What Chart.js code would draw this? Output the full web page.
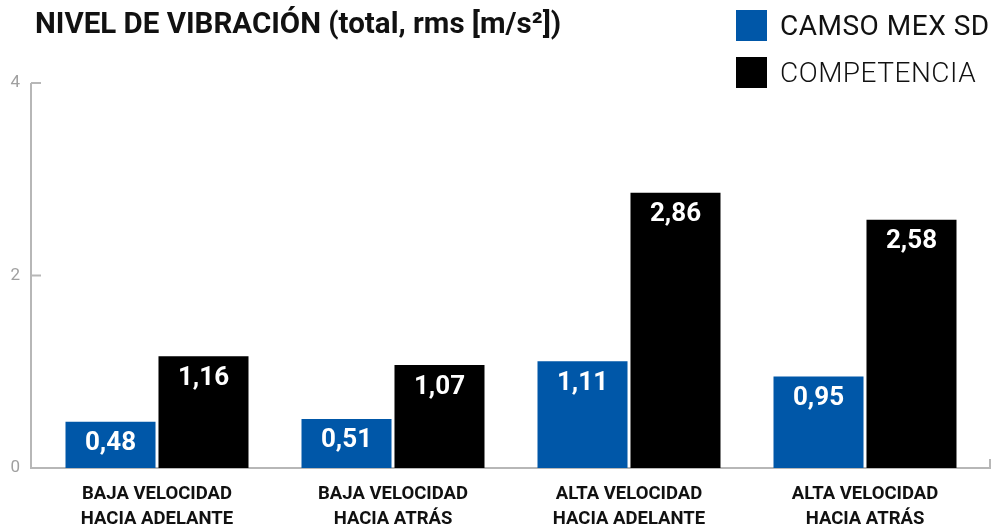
<!DOCTYPE html>
<html lang="es">
<head>
    <meta charset="UTF-8">
    <title>Nivel de vibración</title>
    <script src="https://cdn.jsdelivr.net/npm/chart.js"></script>
    <style>
        html, body {
            margin: 0;
            padding: 0;
            background: #fff;
            overflow: hidden;
        }
        .wrap {
            position: relative;
            width: 992px;
            height: 529px;
            font-family: Roboto, Arial, sans-serif;
        }
        #titulo {
            position: absolute;
            left: 35px;
            top: 6px;
            margin: 0;
            font-size: 29.5px;
            font-weight: 700;
            color: #111;
            letter-spacing: 0;
            white-space: nowrap;
        }
        #leyenda {
            position: absolute;
            left: 736px;
            top: 10px;
        }
        .item {
            display: flex;
            align-items: center;
            height: 31px;
            margin-bottom: 16px;
            font-size: 28px;
            letter-spacing: 0.5px;
            color: #111;
            white-space: nowrap;
        }
        .caja {
            width: 31px;
            height: 31px;
            margin-right: 13px;
        }
        #grafico {
            position: absolute;
            left: 0;
            top: 0;
        }
    </style>
</head>
<body>
<div class="wrap">
    <div id="grafico" style="width:992px;height:529px;"><canvas id="vibChart"></canvas></div>
    <h1 id="titulo">NIVEL DE VIBRACIÓN (total, rms [m/s²])</h1>
    <div id="leyenda"></div>
</div>

<script>
    const categorias = [
        ['BAJA VELOCIDAD', 'HACIA ADELANTE'],
        ['BAJA VELOCIDAD', 'HACIA ATRÁS'],
        ['ALTA VELOCIDAD', 'HACIA ADELANTE'],
        ['ALTA VELOCIDAD', 'HACIA ATRÁS']
    ];
    const camso = [0.48, 0.51, 1.11, 0.95];
    const competencia = [1.16, 1.07, 2.86, 2.58];
    const ticksY = [0, 2, 4];

    const AZUL = '#0057a8';
    const NEGRO = '#000000';
    const GRIS = '#b7b7b7';

    // ejes grises dibujados a mano (linea vertical, ticks hacia dentro y base)
    const ejes = {
        id: 'ejes',
        beforeDatasetsDraw(chart) {
            const { ctx, chartArea, scales: { y } } = chart;
            const x0 = chartArea.left - 8;
            const y0 = y.getPixelForValue(0);
            ctx.save();
            ctx.strokeStyle = GRIS;
            ctx.lineWidth = 2;
            ctx.beginPath();
            ctx.moveTo(x0, y.getPixelForValue(y.max));
            ctx.lineTo(x0, y0);
            ctx.lineTo(chartArea.right + 7, y0);
            ctx.lineTo(chartArea.right + 7, y0 - 9);
            y.ticks.forEach(t => {
                if (t.value > 0) {
                    const py = y.getPixelForValue(t.value);
                    ctx.moveTo(x0, py);
                    ctx.lineTo(x0 + 10, py);
                }
            });
            ctx.stroke();
            ctx.restore();
        }
    };

    // valores blancos dentro de cada barra
    const etiquetas = {
        id: 'etiquetas',
        afterDatasetsDraw(chart) {
            const { ctx } = chart;
            ctx.save();
            ctx.fillStyle = '#fff';
            ctx.font = 'bold 26px Roboto, Arial, sans-serif';
            ctx.textAlign = 'center';
            ctx.textBaseline = 'middle';
            chart.data.datasets.forEach((ds, i) => {
                chart.getDatasetMeta(i).data.forEach((bar, j) => {
                    const txt = ds.data[j].toFixed(2).replace('.', ',');
                    ctx.fillText(txt, bar.x, bar.y + 22);
                });
            });
            ctx.restore();
        }
    };

    const chart = new Chart(document.getElementById('vibChart'), {
        type: 'bar',
        data: {
            labels: categorias,
            datasets: [
                { label: 'CAMSO MEX SD', data: camso, backgroundColor: AZUL },
                { label: 'COMPETENCIA', data: competencia, backgroundColor: NEGRO }
            ]
        },
        options: {
            responsive: true,
            maintainAspectRatio: false,
            animation: false,
            layout: { padding: { top: 83, left: 10, right: 9, bottom: 0 } },
            plugins: {
                legend: { display: false },
                tooltip: { enabled: false },
                title: { display: false }
            },
            datasets: {
                bar: { categoryPercentage: 0.788, barPercentage: 0.968 }
            },
            scales: {
                x: {
                    grid: { display: false, drawTicks: false },
                    border: { display: false },
                    afterFit(scale) {
                        scale.height = 61;
                        scale.paddingLeft = 0;
                        scale.paddingRight = 0;
                    },
                    ticks: {
                        color: '#111',
                        padding: 14,
                        maxRotation: 0,
                        autoSkip: false,
                        font: { family: 'Roboto, Arial, sans-serif', size: 18.5, weight: 'bold', lineHeight: 1.35 }
                    }
                },
                y: {
                    min: 0,
                    max: 4,
                    afterBuildTicks(scale) {
                        scale.ticks = ticksY.map(v => ({ value: v }));
                    },
                    afterFit(scale) {
                        scale.width = 29;
                    },
                    grid: { display: false, drawTicks: false },
                    border: { display: false },
                    ticks: {
                        color: '#a0a0a0',
                        padding: 19,
                        font: { family: 'Roboto, Arial, sans-serif', size: 17 }
                    }
                }
            }
        },
        plugins: [ejes, etiquetas]
    });

    // leyenda en HTML a partir de los datasets
    const leyenda = document.getElementById('leyenda');
    chart.data.datasets.forEach((ds, i) => {
        const item = document.createElement('div');
        item.className = 'item';
        item.style.fontWeight = i === 0 ? '400' : '300';
        item.innerHTML = '<span class="caja" style="background:' + ds.backgroundColor + '"></span>' + ds.label;
        leyenda.appendChild(item);
    });
</script>
</body>
</html>
